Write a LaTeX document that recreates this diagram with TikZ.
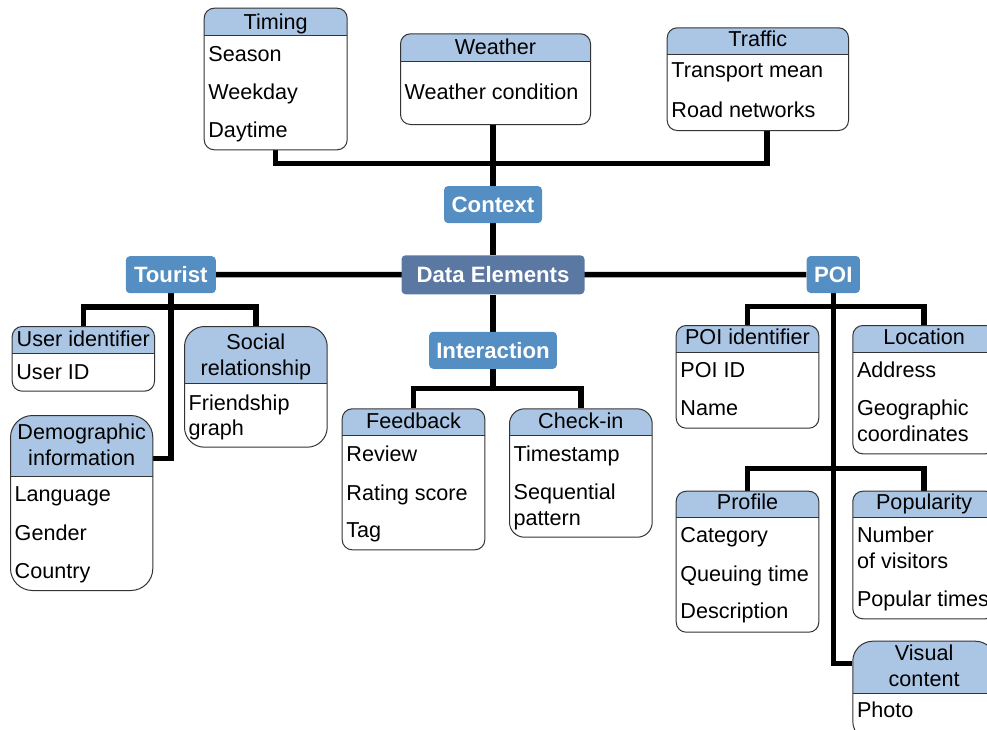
\documentclass[tikz,border=0pt]{standalone}
\usepackage{fontspec}
\setmainfont{Liberation Sans}
\usetikzlibrary{backgrounds}

\definecolor{headblue}{RGB}{171,198,228}
\definecolor{tagblue}{RGB}{85,142,194}
\definecolor{rootblue}{RGB}{91,120,163}
\definecolor{rimgray}{RGB}{51,51,51}

\tikzset{
	box/.style = {draw = rimgray, line width = 1pt, fill = white, anchor = north west, inner sep = 0,
		path picture = {
			\fill [headblue, sharp corners] (path picture bounding box.north west) rectangle ([yshift = -#1]path picture bounding box.north east);
			\draw [rimgray, line width = 1pt, sharp corners] ([yshift = -#1]path picture bounding box.north west) -- ([yshift = -#1]path picture bounding box.north east);
		}},
	title/.style = {anchor = base, inner sep = 0, font = \fontsize{21.6}{26}\selectfont},
	item/.style = {anchor = base west, inner sep = 0, xshift = 4.5pt, font = \fontsize{21.6}{26}\selectfont},
	tag/.style = {fill = tagblue, text = white, rounded corners = 4pt, inner sep = 0, minimum height = 37pt, font = \fontsize{22.2}{26}\selectfont\bfseries},
	link/.style = {line width = 5.5pt, line join = miter}
}

\begin{document}
\begin{tikzpicture}[x = 1pt, y = -1pt]
\useasboundingbox (0, 0) rectangle (987, 729);

% attribute boxes: name/left/top/width/height/header/radius
\foreach \n/\x/\y/\w/\h/\hh/\r in {timing/203.7/7.7/143/141.6/27.3/10, weather/400/33.3/190/90.7/27.4/10,
	traffic/666.7/27.3/181.3/102.7/26.7/10, userid/11.7/326/142.3/64.7/26.7/10, social/184/326/142.7/120.7/57.3/20,
	demo/10/415/142.3/175/61/22, feedback/341.7/408.3/142.6/141/27/10, checkin/509/408.3/142.7/128.4/27/15,
	poiid/675.7/325/142.6/102.7/26.7/10, location/852.3/325/142.6/128.3/26.7/10, profile/675.7/490.7/142.6/141/26.6/10,
	popularity/852.3/490.7/142.6/127.6/26.6/10, visual/852.3/640.7/142.6/100/52.6/20}
	\node [box = \hh pt, rounded corners = \r pt, minimum width = \w pt, minimum height = \h pt] (\n) at (\x, \y) {};

% headers
\foreach \m/\n/\y/\t in {timing-t/timing/29.3/Timing, weather-t/weather/54/Weather, traffic-t/traffic/46.7/Traffic,
	userid-t/userid/346/User identifier, social-t/social/349/Social, social-t2/social/375/relationship,
	demo-t/demo/439.3/Demographic, demo-t2/demo/465.7/information, feedback-t/feedback/428.7/Feedback,
	checkin-t/checkin/428.7/Check-in, poiid-t/poiid/344.3/POI identifier, location-t/location/344.3/Location,
	profile-t/profile/509.3/Profile, popularity-t/popularity/509.3/Popularity, visual-t/visual/660/Visual,
	visual-t2/visual/686.7/content}
	\node [title] (\m) at (\n.center |- 0, \y) {\t};

% attributes
\foreach \m/\n/\y/\t in {timing-1/timing/61.7/Season, timing-2/timing/99.3/Weekday, timing-3/timing/137/Daytime,
	weather-1/weather/99.3/Weather condition, traffic-1/traffic/77.3/Transport mean, traffic-2/traffic/117.3/Road networks,
	userid-1/userid/379/User ID, social-1/social/410/Friendship, social-2/social/435/graph,
	demo-1/demo/501.3/Language, demo-2/demo/540/Gender, demo-3/demo/578.3/Country,
	feedback-1/feedback/461/Review, feedback-2/feedback/500/Rating score, feedback-3/feedback/537.3/Tag,
	checkin-1/checkin/461/Timestamp, checkin-2/checkin/499.3/Sequential, checkin-3/checkin/525.3/pattern,
	poiid-1/poiid/377.3/POI ID, poiid-2/poiid/415/Name,
	location-1/location/377.3/Address, location-2/location/415/Geographic, location-3/location/441.7/coordinates,
	profile-1/profile/542.7/Category, profile-2/profile/581/Queuing time, profile-3/profile/618.3/Description,
	popularity-1/popularity/542.3/Number, popularity-2/popularity/568.3/of visitors, popularity-3/popularity/606/Popular times,
	visual-1/visual/717.7/Photo}
	\node [item] (\m) at (\n.west |- 0, \y) {\t};

% categories
\node [tag, fill = rootblue, minimum width = 183pt, minimum height = 39pt] (de) at (493, 274.8) {Data Elements};
\node [tag, minimum width = 98pt] (ctx) at (493, 204.6) {Context};
\node [tag, minimum width = 90pt] (tourist) at (170.8, 274.7) {Tourist};
\node [tag, minimum width = 53.3pt] (poi) at (833.3, 274.5) {POI};
\node [tag, minimum width = 127.7pt] (inter) at (493, 350.3) {Interaction};

\coordinate (ctxbar) at (493, 163.5);
\coordinate (tbar) at (170.8, 306.8);
\coordinate (demojoin) at (152.3, 458.7);
\coordinate (ibar) at (493, 388.3);
\coordinate (pbar) at (833.3, 306.7);
\coordinate (pbar2) at (833.3, 468.3);
\coordinate (visjoin) at (852.3, 663.3);

\begin{scope}[on background layer]
	\draw [link] (de |- weather.south) -- (de) -- (inter) -- (ibar);
	\draw [link] (timing) |- (ctxbar) -| ([xshift = 9pt]traffic.south);
	\draw [link] (tourist) -- (poi);
	\draw [link] (userid) |- (tbar) -| (social);
	\draw [link] (tourist) |- (demojoin);
	\draw [link] (feedback) |- (ibar) -| (checkin);
	\draw [link] (poi) |- (visjoin);
	\draw [link] (poiid) |- (pbar) -| (location);
	\draw [link] (profile) |- (pbar2) -| (popularity);
\end{scope}
\end{tikzpicture}
\end{document}
